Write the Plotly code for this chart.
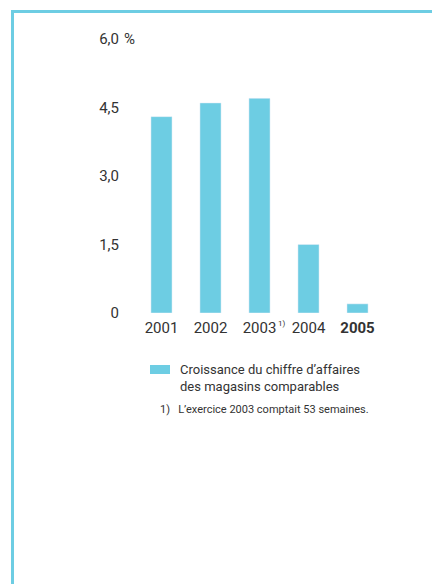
import plotly.graph_objects as go

years = ["2001", "2002", "2003", "2004", "2005"]
tick_labels = ["2001", "2002", "2003", "2004", "<b>2005</b>"]
growth = [4.3, 4.6, 4.7, 1.5, 0.2]
y_ticks = [0, 1.5, 3.0, 4.5, 6.0]
y_tick_labels = ["0", "1,5", "3,0", "4,5", "6,0"]
legend_text = "Croissance du chiffre d’affaires<br>des magasins comparables"
footnote = "1)   L’exercice 2003 comptait 53 semaines."

OFF = 8
W, H = 440 - OFF, 584 - OFF
L, R, T, B = 137 - OFF, 58, 39 - OFF, 271
PW, PH = W - L - R, H - T - B
CYAN = "#6dcde3"
TXT = "#333333"
FONT = "Roboto, DejaVu Sans Condensed, sans-serif"


def px(x):
    return (x - OFF - L) / PW


def py(y):
    return (H - B - (y - OFF)) / PH


fig = go.Figure()
fig.add_trace(go.Bar(x=years, y=growth, marker_color=CYAN, width=0.43,
                     showlegend=False, hoverinfo="skip"))

fig.update_layout(
    width=W, height=H, autosize=False,
    margin=dict(l=L, r=R, t=T, b=B, pad=0),
    paper_bgcolor="white", plot_bgcolor="white",
    font=dict(family=FONT, color=TXT, size=15),
    xaxis=dict(type="category", range=[-0.5, 4.5], tickmode="array",
               tickvals=years, ticktext=tick_labels, showgrid=False,
               showline=False, zeroline=False, ticks="",
               ticklabelstandoff=4, tickfont=dict(size=15, color=TXT)),
    yaxis=dict(range=[0, 6], tickmode="array", tickvals=y_ticks,
               ticktext=y_tick_labels, showgrid=False, showline=False,
               zeroline=False, ticks="", ticklabelstandoff=17,
               tickfont=dict(size=15, color=TXT)),
)

shapes = [
    dict(type="line", xref="paper", yref="paper", x0=px(11), x1=px(440),
         y0=py(11.5), y1=py(11.5), line=dict(color=CYAN, width=3)),
    dict(type="line", xref="paper", yref="paper", x0=px(12.5), x1=px(12.5),
         y0=py(10), y1=py(584), line=dict(color=CYAN, width=3)),
    dict(type="rect", xref="paper", yref="paper", x0=px(150), x1=px(170),
         y0=py(365), y1=py(374), fillcolor=CYAN, line=dict(width=0)),
]
fig.update_layout(shapes=shapes)

annotations = [
    dict(text="%", xref="paper", yref="y", x=px(122), y=6.0, xanchor="left",
         yanchor="middle", showarrow=False, font=dict(size=15, color=TXT)),
    dict(text="1)", xref="paper", yref="paper", x=px(276), y=py(323),
         xanchor="left", yanchor="middle", showarrow=False,
         font=dict(size=8, color=TXT)),
    dict(text=legend_text, xref="paper", yref="paper", x=px(178), y=py(360),
         xanchor="left", yanchor="top", align="left", showarrow=False,
         font=dict(size=13, color=TXT)),
    dict(text=footnote, xref="paper", yref="paper", x=px(158), y=py(401),
         xanchor="left", yanchor="top", align="left", showarrow=False,
         font=dict(size=11, color=TXT)),
]
fig.update_layout(annotations=annotations)

fig.write_html("out.html")
